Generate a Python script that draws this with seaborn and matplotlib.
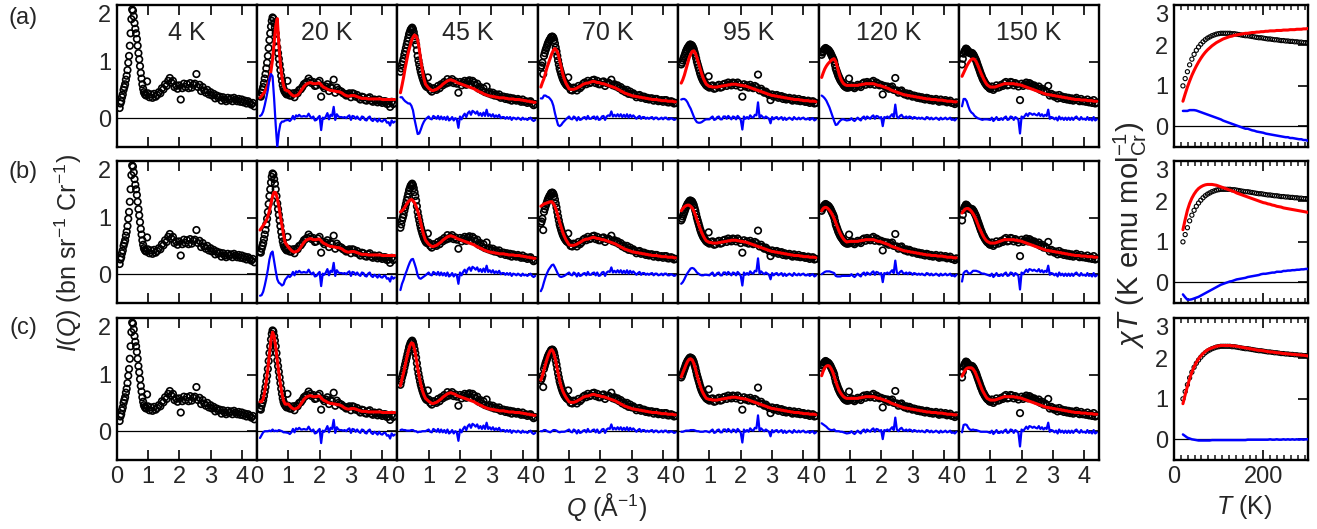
import numpy as np
import matplotlib
matplotlib.use("Agg")
import matplotlib.pyplot as plt
import seaborn as sns
from matplotlib.ticker import MultipleLocator

sns.set_theme(style="ticks")
plt.rcParams["font.family"] = ["Liberation Sans", "DejaVu Sans"]
plt.rcParams["mathtext.fontset"] = "custom"
plt.rcParams["mathtext.rm"] = "Liberation Sans"
plt.rcParams["mathtext.it"] = "Liberation Sans:italic"
plt.rcParams["mathtext.bf"] = "Liberation Sans:bold"

temps = ["4 K", "20 K", "45 K", "70 K", "95 K", "120 K", "150 K"]

# Q points of the measured data
q_data = [0.100, 0.125, 0.150, 0.175, 0.200, 0.225, 0.250, 0.275, 0.300, 0.325, 0.350, 0.375,
          0.400, 0.425, 0.450, 0.475, 0.500, 0.525, 0.550, 0.575, 0.600, 0.625, 0.650, 0.675,
          0.700, 0.725, 0.750, 0.775, 0.800, 0.825, 0.850, 0.875, 0.900, 0.925, 0.950, 0.975,
          1.00, 1.05, 1.10, 1.15, 1.20, 1.25, 1.30, 1.35, 1.40, 1.45, 1.50, 1.55, 1.60, 1.65, 1.70, 1.75,
          1.80, 1.85, 1.90, 1.95, 2.00, 2.05, 2.10, 2.15, 2.20, 2.25, 2.30, 2.35, 2.40, 2.45, 2.50, 2.55,
          2.60, 2.65, 2.70, 2.75, 2.80, 2.85, 2.90, 2.95, 3.00, 3.05, 3.10, 3.15, 3.20, 3.25, 3.30, 3.35,
          3.40, 3.45, 3.50, 3.55, 3.60, 3.65, 3.70, 3.75, 3.80, 3.85, 3.90, 3.95, 4.00, 4.05, 4.10, 4.15,
          4.20, 4.25, 4.30, 4.35, 4.40]

# Q points of the model curves: coarser below 1, same as the data above
q_fit_low = [0.10, 0.15, 0.20, 0.25, 0.30, 0.35, 0.40, 0.45, 0.50, 0.55, 0.60, 0.65, 0.70, 0.75, 0.80, 0.85, 0.90]
q_fit = q_fit_low + q_data[q_data.index(1.00):]

# measured I(Q), same in every row
iq_4k = [0.18, 0.26, 0.30, 0.37, 0.42, 0.50, 0.55, 0.60, 0.68, 0.75, 0.85, 0.98, 1.10, 1.28, 1.50, 1.75, 1.92, 1.90,
         1.80, 1.68, 1.58, 1.50, 1.40, 1.28, 1.15, 1.04, 0.92, 0.80, 0.70, 0.60, 0.52, 0.46, 0.43, 0.41, 0.40, 0.65,
         0.44, 0.37, 0.42, 0.36, 0.43, 0.38, 0.41, 0.46, 0.44, 0.53, 0.51, 0.60, 0.57, 0.66, 0.71, 0.63, 0.66, 0.55, 0.58, 0.52,
         0.58, 0.33, 0.53, 0.61, 0.55, 0.60, 0.53, 0.62, 0.54, 0.59, 0.61, 0.78, 0.55, 0.59, 0.48, 0.55, 0.49, 0.45, 0.50, 0.42,
         0.46, 0.40, 0.43, 0.35, 0.40, 0.36, 0.38, 0.31, 0.37, 0.33, 0.30, 0.36, 0.32, 0.35, 0.30, 0.36, 0.33, 0.30, 0.34, 0.29,
         0.33, 0.28, 0.31, 0.26, 0.30, 0.27, 0.24, 0.27, 0.21]
iq_20k = [0.40, 0.38, 0.45, 0.50, 0.55, 0.62, 0.70, 0.78, 0.88, 0.98, 1.10, 1.24, 1.38, 1.50, 1.62, 1.72, 1.78, 1.76,
          1.68, 1.60, 1.50, 1.38, 1.25, 1.15, 1.05, 0.95, 0.85, 0.75, 0.66, 0.58, 0.52, 0.48, 0.46, 0.44, 0.42, 0.66,
          0.45, 0.40, 0.40, 0.44, 0.37, 0.45, 0.44, 0.50, 0.51, 0.55, 0.60, 0.62, 0.64, 0.70, 0.66, 0.62, 0.64, 0.57, 0.58, 0.63,
          0.66, 0.38, 0.57, 0.53, 0.56, 0.60, 0.48, 0.55, 0.53, 0.68, 0.45, 0.54, 0.50, 0.48, 0.47, 0.44, 0.43, 0.40, 0.42, 0.44,
          0.37, 0.44, 0.43, 0.38, 0.41, 0.36, 0.33, 0.38, 0.37, 0.32, 0.31, 0.35, 0.37, 0.31, 0.29, 0.33, 0.31, 0.28, 0.33, 0.29,
          0.27, 0.30, 0.30, 0.25, 0.26, 0.20, 0.29, 0.25, 0.27]
iq_45k = [0.82, 0.88, 0.95, 1.00, 1.05, 1.12, 1.18, 1.24, 1.30, 1.36, 1.42, 1.48, 1.52, 1.56, 1.58, 1.60, 1.57, 1.52,
          1.45, 1.38, 1.30, 1.20, 1.10, 1.02, 0.95, 0.88, 0.82, 0.77, 0.72, 0.68, 0.64, 0.61, 0.58, 0.56, 0.55, 0.72,
          0.56, 0.50, 0.47, 0.53, 0.52, 0.50, 0.57, 0.53, 0.60, 0.58, 0.64, 0.61, 0.69, 0.63, 0.66, 0.69, 0.62, 0.65, 0.61, 0.45,
          0.64, 0.58, 0.63, 0.66, 0.59, 0.65, 0.67, 0.60, 0.66, 0.63, 0.58, 0.61, 0.52, 0.55, 0.49, 0.53, 0.46, 0.56, 0.44, 0.46,
          0.42, 0.45, 0.40, 0.42, 0.39, 0.42, 0.36, 0.38, 0.38, 0.34, 0.37, 0.33, 0.36, 0.31, 0.35, 0.33, 0.31, 0.34, 0.32, 0.29,
          0.33, 0.29, 0.30, 0.27, 0.29, 0.30, 0.26, 0.23, 0.25]
iq_70k = [0.90, 0.93, 0.98, 0.78, 1.10, 1.15, 1.20, 1.24, 1.28, 1.32, 1.35, 1.38, 1.40, 1.43, 1.44, 1.44, 1.42, 1.38,
          1.32, 1.25, 1.18, 1.10, 1.02, 0.95, 0.88, 0.83, 0.78, 0.74, 0.70, 0.67, 0.64, 0.62, 0.60, 0.58, 0.57, 0.72,
          0.55, 0.50, 0.49, 0.54, 0.53, 0.49, 0.57, 0.53, 0.56, 0.61, 0.63, 0.60, 0.66, 0.62, 0.63, 0.67, 0.68, 0.62, 0.66, 0.60,
          0.60, 0.64, 0.65, 0.57, 0.62, 0.63, 0.61, 0.68, 0.58, 0.60, 0.56, 0.58, 0.53, 0.55, 0.49, 0.51, 0.46, 0.50, 0.43, 0.47,
          0.42, 0.44, 0.41, 0.37, 0.40, 0.41, 0.36, 0.38, 0.38, 0.34, 0.36, 0.33, 0.35, 0.35, 0.31, 0.34, 0.34, 0.30, 0.31, 0.32,
          0.29, 0.32, 0.32, 0.28, 0.28, 0.30, 0.29, 0.26, 0.27]
iq_95k = [0.95, 0.98, 1.02, 1.06, 1.10, 1.14, 1.18, 1.21, 1.24, 1.26, 1.28, 1.30, 1.30, 1.29, 1.28, 1.25, 1.22, 1.17,
          1.12, 1.06, 1.00, 0.95, 0.90, 0.85, 0.80, 0.76, 0.72, 0.69, 0.66, 0.64, 0.62, 0.60, 0.58, 0.57, 0.56, 0.74,
          0.54, 0.57, 0.58, 0.52, 0.53, 0.57, 0.59, 0.54, 0.55, 0.60, 0.61, 0.57, 0.63, 0.60, 0.58, 0.63, 0.62, 0.58, 0.63, 0.60,
          0.55, 0.38, 0.60, 0.56, 0.58, 0.54, 0.59, 0.55, 0.53, 0.57, 0.55, 0.77, 0.49, 0.52, 0.48, 0.45, 0.47, 0.44, 0.41, 0.32,
          0.42, 0.38, 0.40, 0.41, 0.36, 0.38, 0.39, 0.34, 0.37, 0.33, 0.34, 0.36, 0.33, 0.31, 0.35, 0.32, 0.31, 0.34, 0.30, 0.32,
          0.32, 0.29, 0.29, 0.31, 0.27, 0.29, 0.30, 0.26, 0.27]
iq_120k = [1.12, 1.16, 1.18, 1.21, 1.22, 1.24, 1.23, 1.22, 1.21, 1.20, 1.18, 1.16, 1.13, 1.10, 1.07, 1.04, 1.00, 0.94,
           0.88, 0.84, 0.80, 0.76, 0.73, 0.70, 0.67, 0.65, 0.63, 0.61, 0.59, 0.57, 0.56, 0.55, 0.54, 0.55, 0.54, 0.70,
           0.55, 0.58, 0.55, 0.53, 0.56, 0.59, 0.57, 0.55, 0.61, 0.63, 0.59, 0.64, 0.62, 0.60, 0.64, 0.66, 0.59, 0.63, 0.61, 0.58,
           0.59, 0.42, 0.57, 0.55, 0.56, 0.52, 0.54, 0.56, 0.50, 0.71, 0.49, 0.45, 0.48, 0.49, 0.44, 0.42, 0.44, 0.40, 0.43, 0.41,
           0.38, 0.40, 0.39, 0.36, 0.38, 0.35, 0.37, 0.34, 0.33, 0.36, 0.35, 0.32, 0.34, 0.31, 0.32, 0.34, 0.31, 0.29, 0.33, 0.30,
           0.30, 0.32, 0.28, 0.29, 0.31, 0.27, 0.27, 0.25, 0.28]
iq_150k = [0.95, 1.05, 1.14, 1.18, 1.20, 1.23, 1.22, 1.20, 1.18, 1.16, 1.15, 1.16, 1.14, 1.15, 1.13, 1.11, 1.08, 1.05,
           1.02, 0.98, 0.94, 0.90, 0.86, 0.82, 0.78, 0.75, 0.71, 0.68, 0.66, 0.63, 0.61, 0.59, 0.57, 0.56, 0.55, 0.53,
           0.52, 0.56, 0.50, 0.53, 0.58, 0.54, 0.55, 0.59, 0.57, 0.62, 0.64, 0.58, 0.59, 0.64, 0.63, 0.58, 0.62, 0.60, 0.56, 0.32,
           0.61, 0.57, 0.60, 0.63, 0.58, 0.62, 0.60, 0.57, 0.58, 0.55, 0.53, 0.56, 0.50, 0.52, 0.47, 0.49, 0.46, 0.57, 0.40, 0.43,
           0.41, 0.38, 0.40, 0.35, 0.41, 0.36, 0.38, 0.34, 0.37, 0.33, 0.36, 0.32, 0.35, 0.31, 0.34, 0.36, 0.32, 0.30, 0.34, 0.30,
           0.31, 0.29, 0.33, 0.28, 0.30, 0.27, 0.32, 0.26, 0.28]

# model curves: low-Q part per row, high-Q part shared by the rows
fit20_a = [0.36, 0.39, 0.43, 0.47, 0.52, 0.60, 0.68, 0.84, 1.04, 1.34, 1.62, 1.76, 1.30, 0.95, 0.72, 0.58, 0.50]
fit20_b = [0.78, 0.82, 0.86, 0.90, 0.95, 1.02, 1.12, 1.25, 1.38, 1.45, 1.44, 1.34, 1.20, 1.02, 0.86, 0.70, 0.56]
fit20_c = [0.52, 0.52, 0.57, 0.70, 0.88, 1.10, 1.37, 1.62, 1.75, 1.68, 1.49, 1.25, 1.03, 0.84, 0.66, 0.54, 0.48]
fit45_a = [0.45, 0.58, 0.72, 0.88, 1.02, 1.16, 1.26, 1.36, 1.43, 1.47, 1.45, 1.38, 1.22, 1.02, 0.84, 0.70, 0.60]
fit45_b = [1.10, 1.12, 1.15, 1.19, 1.24, 1.28, 1.31, 1.32, 1.30, 1.26, 1.20, 1.12, 1.02, 0.90, 0.78, 0.68, 0.60]
fit45_c = [0.80, 0.92, 1.03, 1.16, 1.29, 1.41, 1.51, 1.56, 1.55, 1.45, 1.30, 1.12, 0.96, 0.83, 0.72, 0.64, 0.58]
fit70_a = [0.55, 0.63, 0.70, 0.80, 0.90, 0.98, 1.06, 1.14, 1.20, 1.23, 1.20, 1.14, 1.02, 0.90, 0.78, 0.69, 0.62]
fit70_b = [1.20, 1.22, 1.24, 1.25, 1.26, 1.27, 1.28, 1.28, 1.25, 1.20, 1.12, 1.02, 0.92, 0.83, 0.74, 0.67, 0.61]
fit70_c = [0.90, 0.98, 1.08, 1.18, 1.28, 1.36, 1.42, 1.44, 1.40, 1.30, 1.17, 1.03, 0.90, 0.79, 0.71, 0.65, 0.60]
fit95_a = [0.62, 0.68, 0.76, 0.86, 0.96, 1.06, 1.13, 1.18, 1.19, 1.15, 1.07, 0.98, 0.88, 0.79, 0.71, 0.65, 0.60]
fit95_b = [1.12, 1.16, 1.19, 1.21, 1.22, 1.22, 1.20, 1.17, 1.12, 1.05, 0.97, 0.89, 0.81, 0.74, 0.68, 0.63, 0.59]
fit95_c = [0.96, 1.03, 1.10, 1.17, 1.23, 1.27, 1.28, 1.26, 1.20, 1.11, 1.00, 0.90, 0.81, 0.73, 0.67, 0.62, 0.58]
fit120_a = [0.72, 0.80, 0.87, 0.92, 0.96, 0.99, 1.02, 1.04, 1.05, 1.00, 0.91, 0.80, 0.71, 0.65, 0.61, 0.59, 0.58]
fit120_b = [1.12, 1.16, 1.18, 1.18, 1.16, 1.13, 1.09, 1.04, 0.98, 0.91, 0.84, 0.77, 0.71, 0.66, 0.62, 0.59, 0.57]
fit120_c = [0.98, 1.06, 1.12, 1.15, 1.16, 1.15, 1.11, 1.05, 0.97, 0.88, 0.80, 0.73, 0.68, 0.64, 0.61, 0.59, 0.58]
fit150_a = [0.74, 0.80, 0.86, 0.92, 0.97, 1.01, 1.04, 1.05, 1.04, 1.00, 0.94, 0.87, 0.80, 0.74, 0.68, 0.63, 0.59]
fit150_b = [1.08, 1.12, 1.15, 1.16, 1.16, 1.14, 1.11, 1.07, 1.02, 0.96, 0.89, 0.82, 0.76, 0.70, 0.65, 0.61, 0.58]
fit150_c = [0.97, 1.03, 1.08, 1.11, 1.12, 1.12, 1.12, 1.10, 1.06, 1.00, 0.93, 0.86, 0.79, 0.72, 0.67, 0.62, 0.58]

tail20 = [0.48, 0.45, 0.42, 0.40, 0.39, 0.40, 0.41, 0.44, 0.48, 0.52, 0.56, 0.59, 0.61, 0.62, 0.63, 0.62, 0.61, 0.61, 0.61, 0.62,
          0.62, 0.59, 0.56, 0.54, 0.53, 0.51, 0.50, 0.49, 0.49, 0.48, 0.48, 0.47, 0.47, 0.46, 0.45, 0.43, 0.41, 0.40, 0.39, 0.39,
          0.40, 0.40, 0.40, 0.39, 0.38, 0.37, 0.36, 0.35, 0.35, 0.35, 0.35, 0.34, 0.34, 0.34, 0.34, 0.34, 0.34, 0.34, 0.34, 0.34,
          0.33, 0.33, 0.33, 0.33, 0.33, 0.33, 0.33, 0.33, 0.33]
tail45 = [0.53, 0.51, 0.49, 0.49, 0.50, 0.51, 0.53, 0.55, 0.57, 0.60, 0.62, 0.64, 0.66, 0.67, 0.68, 0.67, 0.66, 0.65, 0.63, 0.62,
          0.61, 0.60, 0.59, 0.58, 0.57, 0.56, 0.55, 0.54, 0.53, 0.52, 0.50, 0.49, 0.47, 0.46, 0.45, 0.43, 0.42, 0.41, 0.40, 0.39,
          0.39, 0.38, 0.38, 0.37, 0.37, 0.36, 0.36, 0.36, 0.36, 0.35, 0.35, 0.34, 0.34, 0.34, 0.34, 0.33, 0.33, 0.33, 0.33, 0.32,
          0.32, 0.31, 0.31, 0.30, 0.30, 0.29, 0.29, 0.28, 0.28]
tail70 = [0.52, 0.51, 0.51, 0.51, 0.52, 0.53, 0.55, 0.56, 0.58, 0.60, 0.61, 0.62, 0.62, 0.63, 0.64, 0.65, 0.65, 0.64, 0.63, 0.63,
          0.62, 0.61, 0.61, 0.60, 0.59, 0.58, 0.57, 0.56, 0.55, 0.54, 0.53, 0.51, 0.50, 0.48, 0.47, 0.45, 0.44, 0.43, 0.42, 0.41,
          0.40, 0.39, 0.39, 0.38, 0.38, 0.37, 0.37, 0.36, 0.36, 0.35, 0.35, 0.34, 0.34, 0.33, 0.33, 0.33, 0.33, 0.32, 0.32, 0.31,
          0.31, 0.31, 0.31, 0.30, 0.30, 0.30, 0.30, 0.29, 0.29]
tail95 = [0.56, 0.56, 0.55, 0.55, 0.55, 0.55, 0.56, 0.56, 0.57, 0.57, 0.58, 0.58, 0.59, 0.59, 0.60, 0.60, 0.60, 0.60, 0.59, 0.59,
          0.58, 0.58, 0.57, 0.57, 0.56, 0.55, 0.54, 0.53, 0.52, 0.51, 0.50, 0.49, 0.48, 0.47, 0.46, 0.45, 0.44, 0.43, 0.42, 0.41,
          0.40, 0.40, 0.39, 0.39, 0.38, 0.38, 0.37, 0.37, 0.36, 0.36, 0.35, 0.35, 0.34, 0.34, 0.33, 0.33, 0.33, 0.33, 0.32, 0.32,
          0.31, 0.31, 0.31, 0.31, 0.30, 0.30, 0.30, 0.30, 0.29]
tail120 = [0.58, 0.58, 0.58, 0.58, 0.58, 0.58, 0.59, 0.59, 0.60, 0.60, 0.61, 0.61, 0.61, 0.61, 0.61, 0.61, 0.60, 0.59, 0.58, 0.58,
           0.57, 0.56, 0.55, 0.54, 0.53, 0.52, 0.50, 0.49, 0.48, 0.47, 0.46, 0.45, 0.44, 0.43, 0.42, 0.41, 0.41, 0.40, 0.40, 0.39,
           0.39, 0.38, 0.38, 0.37, 0.37, 0.36, 0.36, 0.35, 0.35, 0.34, 0.34, 0.34, 0.33, 0.33, 0.33, 0.33, 0.32, 0.32, 0.32, 0.32,
           0.31, 0.31, 0.30, 0.30, 0.30, 0.30, 0.29, 0.29, 0.29]
tail150 = [0.55, 0.55, 0.55, 0.55, 0.56, 0.57, 0.58, 0.59, 0.60, 0.61, 0.61, 0.61, 0.61, 0.61, 0.61, 0.61, 0.60, 0.60, 0.59, 0.59,
           0.58, 0.57, 0.56, 0.55, 0.54, 0.53, 0.52, 0.51, 0.50, 0.49, 0.48, 0.47, 0.46, 0.45, 0.44, 0.43, 0.42, 0.42, 0.41, 0.41,
           0.40, 0.40, 0.39, 0.39, 0.38, 0.38, 0.37, 0.37, 0.36, 0.36, 0.35, 0.35, 0.34, 0.34, 0.33, 0.33, 0.33, 0.33, 0.32, 0.32,
           0.32, 0.32, 0.31, 0.31, 0.31, 0.31, 0.30, 0.30, 0.30]

# chi*T vs T
t_chi = [20, 25, 30, 35, 40, 45, 50, 55, 60, 65, 70, 75, 80, 85, 90, 95, 100, 105, 110, 115, 120, 125,
         130, 135, 140, 145, 150, 155, 160, 165, 170, 175, 180, 185, 190, 195, 200, 205, 210, 215, 220,
         225, 230, 235, 240, 245, 250, 255, 260, 265, 270, 275, 280, 285, 290, 295, 300]
chi_data = [1.00, 1.18, 1.35, 1.52, 1.66, 1.78, 1.88, 1.96, 2.03, 2.09, 2.14, 2.18, 2.21, 2.24, 2.26, 2.28, 2.29,
            2.30, 2.30, 2.30, 2.30, 2.30, 2.29, 2.29, 2.28, 2.27, 2.26, 2.25, 2.24, 2.24, 2.23, 2.22, 2.21, 2.20,
            2.19, 2.19, 2.18, 2.17, 2.16, 2.16, 2.15, 2.14, 2.14, 2.13, 2.12, 2.12, 2.11, 2.11, 2.10, 2.10, 2.09,
            2.09, 2.08, 2.08, 2.07, 2.07, 2.06]
chi_fit_a = [0.62, 0.80, 0.97, 1.12, 1.26, 1.38, 1.49, 1.59, 1.68, 1.76, 1.83, 1.89, 1.94, 1.99, 2.03, 2.07, 2.10,
             2.13, 2.16, 2.18, 2.20, 2.22, 2.23, 2.25, 2.26, 2.27, 2.28, 2.29, 2.30, 2.30, 2.31, 2.32, 2.32, 2.33,
             2.33, 2.34, 2.34, 2.35, 2.35, 2.36, 2.36, 2.36, 2.37, 2.37, 2.37, 2.38, 2.38, 2.38, 2.39, 2.39, 2.39,
             2.40, 2.40, 2.40, 2.41, 2.41, 2.42]
chi_fit_b = [1.30, 1.55, 1.78, 1.95, 2.08, 2.18, 2.26, 2.32, 2.36, 2.39, 2.41, 2.42, 2.42, 2.42, 2.41, 2.40, 2.38,
             2.36, 2.34, 2.32, 2.30, 2.28, 2.26, 2.24, 2.21, 2.19, 2.17, 2.15, 2.13, 2.11, 2.09, 2.07, 2.05, 2.03,
             2.01, 1.99, 1.97, 1.96, 1.94, 1.93, 1.91, 1.90, 1.88, 1.87, 1.86, 1.84, 1.83, 1.82, 1.81, 1.80, 1.79,
             1.78, 1.77, 1.76, 1.75, 1.74, 1.73]
chi_fit_c = [0.88, 1.10, 1.31, 1.50, 1.66, 1.79, 1.90, 1.99, 2.06, 2.12, 2.17, 2.21, 2.24, 2.26, 2.28, 2.30, 2.31,
             2.32, 2.32, 2.32, 2.32, 2.32, 2.31, 2.31, 2.30, 2.29, 2.28, 2.27, 2.26, 2.25, 2.24, 2.23, 2.22, 2.21,
             2.20, 2.20, 2.19, 2.18, 2.17, 2.16, 2.16, 2.15, 2.14, 2.14, 2.13, 2.12, 2.12, 2.11, 2.11, 2.10, 2.10,
             2.09, 2.09, 2.08, 2.08, 2.07, 2.06]

iq_all = [iq_4k, iq_20k, iq_45k, iq_70k, iq_95k, iq_120k, iq_150k]
fit_low = [[fit20_a, fit45_a, fit70_a, fit95_a, fit120_a, fit150_a],
           [fit20_b, fit45_b, fit70_b, fit95_b, fit120_b, fit150_b],
           [fit20_c, fit45_c, fit70_c, fit95_c, fit120_c, fit150_c]]
fit_tail = [tail20, tail45, tail70, tail95, tail120, tail150]
chi_fits = [chi_fit_a, chi_fit_b, chi_fit_c]

# data points that sit on the model grid -> residual
on_fit = [q_data.index(v) for v in q_fit]

W, H = 1317, 529
fig = plt.figure(figsize=(W / 100, H / 100), dpi=100)


def px_axes(x0, y0, w, h):
    return fig.add_axes([x0 / W, 1 - (y0 + h) / H, w / W, h / H])


def style_axes(ax):
    for sp in ax.spines.values():
        sp.set_linewidth(1.7)
        sp.set_color("black")
        sp.set_visible(True)
    # top label sits just under the top edge, as in the original
    ax.yaxis.get_major_ticks()[-1].label1.set_va("top")


row_top = [5, 161, 318]
row_h = 141.5
col_left, col_w = 116.5, 140.4

for r in range(3):
    for j in range(7):
        ax = px_axes(col_left + j * col_w, row_top[r], col_w, row_h)
        ax.axhline(0, color="black", lw=0.9, zorder=1)
        y_obs = np.array(iq_all[j])
        sns.scatterplot(x=q_data, y=y_obs, ax=ax, s=22, facecolor="none", edgecolor="black",
                        linewidth=1.2, zorder=2)
        if j > 0:
            fit = np.array(fit_low[r][j - 1] + fit_tail[j - 1])
            sns.lineplot(x=q_fit, y=fit, ax=ax, color="red", linewidth=2.2, errorbar=None, zorder=3)
            sns.lineplot(x=q_fit, y=y_obs[on_fit] - fit, ax=ax, color="blue", linewidth=1.6,
                         errorbar=None, zorder=3)
        ax.set_xlim(0, 4.48)
        ax.set_ylim(-0.5, 2.0)
        ax.set_xticks([0, 1, 2, 3, 4])
        ax.set_yticks([0, 1, 2])
        ax.set_xlabel("")
        ax.set_ylabel("")
        ax.tick_params(axis="x", direction="in", top=True, bottom=True, length=7, width=1.4,
                       labelsize=17, pad=5, labelbottom=(r == 2))
        ax.tick_params(axis="y", direction="in", left=False, right=True, length=7, width=1.4,
                       labelsize=17, pad=4, labelleft=(j == 0))
        style_axes(ax)
        if r == 0:
            ax.text(0.5, 0.80, temps[j], transform=ax.transAxes, ha="center", va="center", fontsize=18)

    # chi*T panel
    axc = px_axes(1174, row_top[r], 134, row_h)
    axc.axhline(0, color="black", lw=0.9, zorder=1)
    chi_obs = np.array(chi_data)
    chi_fit = np.array(chi_fits[r])
    sns.scatterplot(x=t_chi, y=chi_obs, ax=axc, s=9, facecolor="none", edgecolor="black",
                    linewidth=0.8, zorder=2)
    sns.lineplot(x=t_chi, y=chi_fit, ax=axc, color="red", linewidth=2.2, errorbar=None, zorder=3)
    sns.lineplot(x=t_chi, y=chi_obs - chi_fit, ax=axc, color="blue", linewidth=1.8, errorbar=None, zorder=3)
    axc.set_xlim(0, 300)
    axc.set_ylim(-0.5, 3.0)
    axc.set_xticks([0, 200])
    axc.xaxis.set_minor_locator(MultipleLocator(200 / 13))
    axc.set_yticks([0, 1, 2, 3])
    axc.set_xlabel("")
    axc.set_ylabel("")
    axc.tick_params(axis="x", which="major", direction="in", top=True, bottom=True, length=7, width=1.4,
                    labelsize=17, pad=5, labelbottom=(r == 2))
    axc.tick_params(axis="x", which="minor", direction="in", top=True, bottom=True, length=3.5, width=1.2)
    axc.tick_params(axis="y", direction="in", left=False, right=True, length=7, width=1.4,
                    labelsize=17, pad=4)
    style_axes(axc)

# labels
for lab, yc in zip(["(a)", "(b)", "(c)"], [18, 172, 328]):
    fig.text(23 / W, 1 - yc / H, lab, ha="center", va="center", fontsize=17)
fig.text(68 / W, 1 - 253 / H, r"$I(Q)$ (bn sr$^{-1}$ Cr$^{-1}$)", rotation=90,
         ha="center", va="center", fontsize=18)
fig.text(607 / W, 1 - 507 / H, r"$Q$ (Å$^{-1}$)", ha="center", va="center", fontsize=18)
fig.text(1130 / W, 1 - 235 / H, r"$\chi T$ (K emu mol$_{\mathrm{Cr}}^{-1}$)", rotation=90,
         ha="center", va="center", fontsize=21)
fig.text(1244 / W, 1 - 507 / H, r"$T$ (K)", ha="center", va="center", fontsize=18)

fig.savefig("out.png", dpi=100)
